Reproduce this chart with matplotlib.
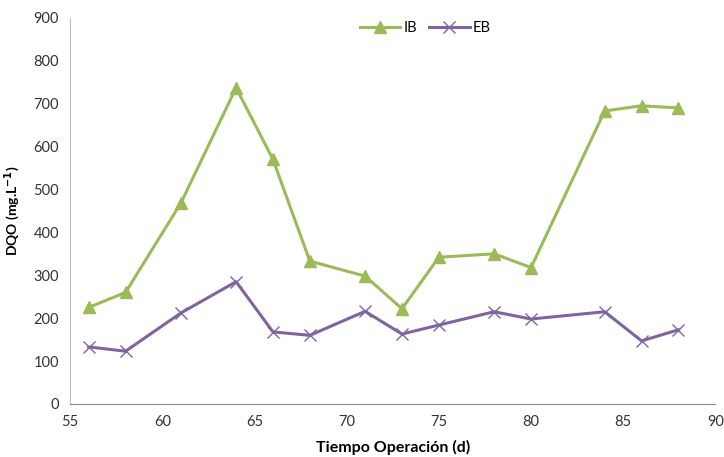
import matplotlib.pyplot as plt

plt.rcParams['font.family'] = ['Lato', 'DejaVu Sans']

# Datos: tiempo de operación (d) y DQO (mg/L)
dias = [56, 58, 61, 64, 66, 68, 71, 73, 75, 78, 80, 84, 86, 88]
dqo_ib = [225, 260, 468, 737, 570, 333, 298, 222, 342, 350, 318, 683, 695, 690]
dqo_eb = [133, 123, 212, 285, 168, 160, 216, 163, 184, 215, 198, 215, 147, 173]

verde = '#9BBB59'
morado = '#8064A2'

fig = plt.figure(figsize=(7.24, 4.57), dpi=100)
ax = fig.add_axes([0.097, 0.116, 0.891, 0.845])

ax.plot(dias, dqo_ib, color=verde, linewidth=2.2, marker='^', markersize=8.5, label='IB')
ax.plot(dias, dqo_eb, color=morado, linewidth=2.2, marker='x', markersize=9,
        markeredgewidth=1.0, label='EB')

ax.set_xlim(55, 90)
ax.set_ylim(0, 900)
ax.set_xticks(range(55, 91, 5))
ax.set_yticks(range(0, 901, 100))
ax.tick_params(length=0, labelsize=10.5, colors='#333333', pad=8)

for s in ['top', 'right']:
    ax.spines[s].set_visible(False)
ax.spines['left'].set_color('#BFBFBF')
ax.spines['bottom'].set_color('#888888')

ax.set_xlabel('Tiempo Operación (d)', fontsize=11.5, fontweight='bold', labelpad=8)
ax.set_ylabel('DQO (mg.L$^{\\mathbf{-1}}$)', fontsize=10, fontweight='bold', labelpad=8)

ax.legend(loc='upper center', bbox_to_anchor=(0.55, 1.025), ncol=2, frameon=False,
          fontsize=10.5, handlelength=2.8, columnspacing=0.8, handletextpad=0.2)

plt.savefig('out.png', dpi=100)
